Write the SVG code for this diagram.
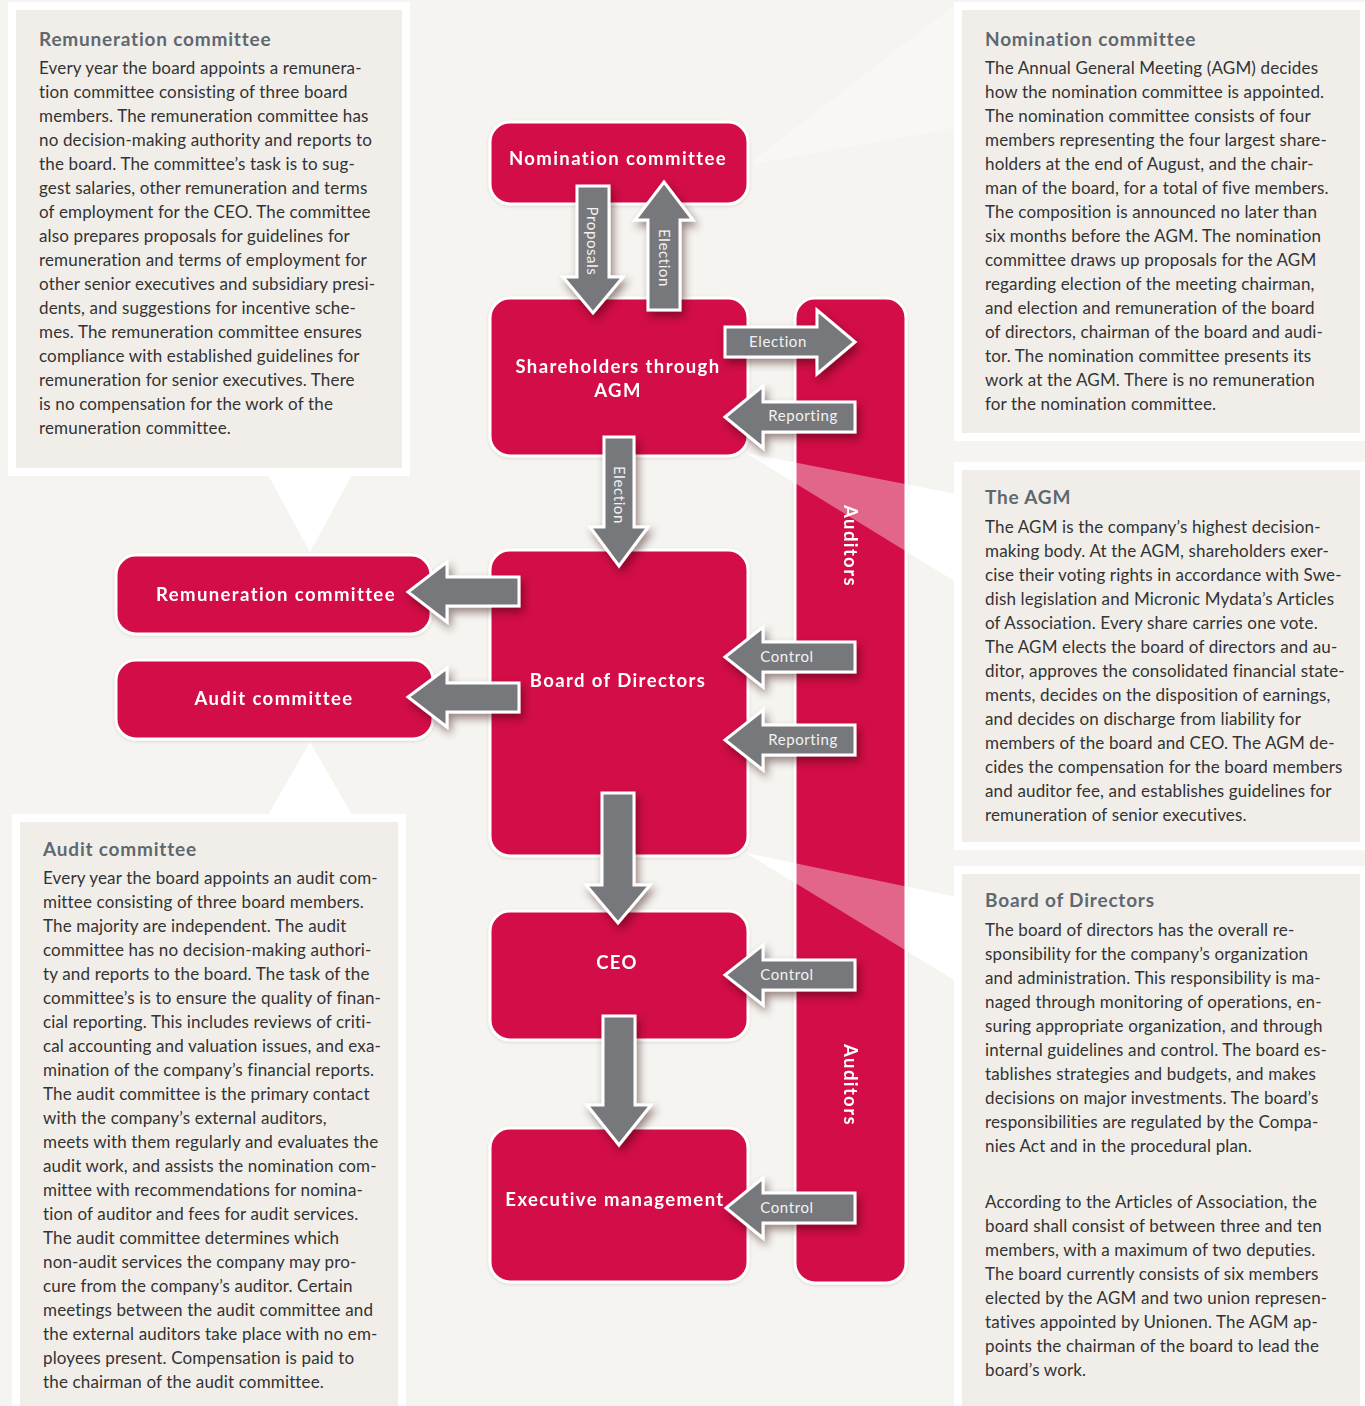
<svg xmlns="http://www.w3.org/2000/svg" width="1365" height="1406" viewBox="0 0 1365 1406">
  <defs>
    <filter id="shadow" x="-20%" y="-20%" width="150%" height="150%">
      <feDropShadow dx="3" dy="5" stdDeviation="4" flood-color="#2a0010" flood-opacity="0.45"/>
    </filter>
    <filter id="nodeShadow" x="-10%" y="-10%" width="130%" height="130%">
      <feDropShadow dx="0" dy="1" stdDeviation="1.5" flood-color="#000" flood-opacity="0.12"/>
    </filter>
    <style>
      .frame { fill: #ffffff; }
      .panel { fill: #f1eeea; }
      .ptitle { font-family: Lato, "Liberation Sans", sans-serif; font-weight: 700; font-size: 19px; fill: #5e6870; letter-spacing: 0.8px; }
      .body { font-family: Lato, "Liberation Sans", sans-serif; font-size: 17px; fill: #333333; letter-spacing: 0.15px; }
      .node { fill: #d20e47; stroke: #ffffff; stroke-width: 3; }
      .nlabel { font-family: Lato, "Liberation Sans", sans-serif; font-weight: 700; font-size: 18.5px; fill: #ffffff; text-anchor: middle; letter-spacing: 1.4px; }
      .arrow { fill: #77787c; stroke: #ffffff; stroke-width: 3; stroke-linejoin: miter; filter: url(#shadow); }
      .alabel { font-family: Lato, "Liberation Sans", sans-serif; font-size: 15px; fill: #f2f2f2; text-anchor: middle; letter-spacing: 0.6px; }
    </style>
  </defs>

  <!-- page background -->
  <rect x="0" y="0" width="1365" height="1406" fill="#f5f4f0"/>

  <!-- text panels with white frames -->
  <g id="panel-remuneration">
    <rect class="frame" x="8" y="2" width="402" height="474"/>
    <polygon class="frame" points="268,475 352,475 310,552"/>
    <rect class="panel" x="16" y="10" width="386" height="458"/>
    <text class="ptitle" x="39" y="46">Remuneration committee</text>
    <text class="body" x="39" y="74">
      <tspan x="39" y="74">Every year the board appoints a remunera-</tspan>
      <tspan x="39" y="98">tion committee consisting of three board</tspan>
      <tspan x="39" y="122">members. The remuneration committee has</tspan>
      <tspan x="39" y="146">no decision-making authority and reports to</tspan>
      <tspan x="39" y="170">the board. The committee’s task is to sug-</tspan>
      <tspan x="39" y="194">gest salaries, other remuneration and terms</tspan>
      <tspan x="39" y="218">of employment for the CEO. The committee</tspan>
      <tspan x="39" y="242">also prepares proposals for guidelines for</tspan>
      <tspan x="39" y="266">remuneration and terms of employment for</tspan>
      <tspan x="39" y="290">other senior executives and subsidiary presi-</tspan>
      <tspan x="39" y="314">dents, and suggestions for incentive sche-</tspan>
      <tspan x="39" y="338">mes. The remuneration committee ensures</tspan>
      <tspan x="39" y="362">compliance with established guidelines for</tspan>
      <tspan x="39" y="386">remuneration for senior executives.  There</tspan>
      <tspan x="39" y="410">is no compensation for the work of the</tspan>
      <tspan x="39" y="434">remuneration committee.</tspan>
    </text>
  </g>

  <g id="panel-audit">
    <rect class="frame" x="12" y="814" width="394" height="600"/>
    <polygon class="frame" points="268,815 352,815 310,742"/>
    <rect class="panel" x="20" y="822" width="378" height="590"/>
    <text class="ptitle" x="43" y="856">Audit committee</text>
    <text class="body">
      <tspan x="43" y="884">Every year the board appoints an audit com-</tspan>
      <tspan x="43" y="908">mittee consisting of three board members.</tspan>
      <tspan x="43" y="932">The majority are independent. The audit</tspan>
      <tspan x="43" y="956">committee has no decision-making authori-</tspan>
      <tspan x="43" y="980">ty and reports to the board. The task of the</tspan>
      <tspan x="43" y="1004">committee’s is to ensure the quality of finan-</tspan>
      <tspan x="43" y="1028">cial reporting. This includes reviews of criti-</tspan>
      <tspan x="43" y="1052">cal accounting and valuation issues, and exa-</tspan>
      <tspan x="43" y="1076">mination of the company’s financial reports.</tspan>
      <tspan x="43" y="1100">The audit committee is the primary contact</tspan>
      <tspan x="43" y="1124">with the company’s external auditors,</tspan>
      <tspan x="43" y="1148">meets with them regularly and evaluates the</tspan>
      <tspan x="43" y="1172">audit work, and assists the nomination com-</tspan>
      <tspan x="43" y="1196">mittee with recommendations for nomina-</tspan>
      <tspan x="43" y="1220">tion of auditor and fees for audit services.</tspan>
      <tspan x="43" y="1244">The audit committee determines which</tspan>
      <tspan x="43" y="1268">non-audit services the company may pro-</tspan>
      <tspan x="43" y="1292">cure from the company’s auditor. Certain</tspan>
      <tspan x="43" y="1316">meetings between the audit committee and</tspan>
      <tspan x="43" y="1340">the external auditors take place with no em-</tspan>
      <tspan x="43" y="1364">ployees present. Compensation is paid to</tspan>
      <tspan x="43" y="1388">the chairman of the audit committee.</tspan>
    </text>
  </g>

  <!-- pointer wedges from the flow boxes to the right-hand panels -->
  <g id="wedges">
    <polygon points="754,160 754,164 956,128 956,4" fill="#ffffff" opacity="0.3"/>
    <polygon points="746,453 956,494 956,582" fill="#ffffff"/>
    <polygon points="746,853 956,897 956,981" fill="#ffffff"/>
  </g>

  <g id="panel-nomination">
    <rect class="frame" x="954" y="2" width="416" height="439"/>
    <rect class="panel" x="962" y="10" width="398" height="423"/>
    <text class="ptitle" x="985" y="46">Nomination committee</text>
    <text class="body">
      <tspan x="985" y="74">The Annual General Meeting (AGM) decides</tspan>
      <tspan x="985" y="98">how the nomination committee is appointed.</tspan>
      <tspan x="985" y="122">The nomination committee consists of four</tspan>
      <tspan x="985" y="146">members representing the four largest share-</tspan>
      <tspan x="985" y="170">holders at the end of August, and the chair-</tspan>
      <tspan x="985" y="194">man of the board, for a total of five members.</tspan>
      <tspan x="985" y="218">The composition is announced no later than</tspan>
      <tspan x="985" y="242">six months before the AGM. The nomination</tspan>
      <tspan x="985" y="266">committee draws up proposals for the AGM</tspan>
      <tspan x="985" y="290">regarding election of the meeting chairman,</tspan>
      <tspan x="985" y="314">and election and remuneration of the board</tspan>
      <tspan x="985" y="338">of directors, chairman of the board and audi-</tspan>
      <tspan x="985" y="362">tor. The nomination committee presents its</tspan>
      <tspan x="985" y="386">work at the AGM. There is no remuneration</tspan>
      <tspan x="985" y="410">for the nomination committee.</tspan>
    </text>
  </g>

  <g id="panel-agm">
    <rect class="frame" x="954" y="462" width="416" height="388"/>
    <rect class="panel" x="962" y="470" width="398" height="372"/>
    <text class="ptitle" x="985" y="504">The AGM</text>
    <text class="body">
      <tspan x="985" y="533">The AGM is the company’s highest decision-</tspan>
      <tspan x="985" y="557">making body. At the AGM, shareholders exer-</tspan>
      <tspan x="985" y="581">cise their voting rights in accordance with Swe-</tspan>
      <tspan x="985" y="605">dish legislation and Micronic Mydata’s Articles</tspan>
      <tspan x="985" y="629">of Association. Every share carries one vote.</tspan>
      <tspan x="985" y="653">The AGM elects the board of directors and au-</tspan>
      <tspan x="985" y="677">ditor, approves the consolidated financial state-</tspan>
      <tspan x="985" y="701">ments, decides on the disposition of earnings,</tspan>
      <tspan x="985" y="725">and decides on discharge from liability for</tspan>
      <tspan x="985" y="749">members of the board and CEO. The AGM de-</tspan>
      <tspan x="985" y="773">cides the compensation for the board members</tspan>
      <tspan x="985" y="797">and auditor fee, and establishes guidelines for</tspan>
      <tspan x="985" y="821">remuneration of senior executives.</tspan>
    </text>
  </g>

  <g id="panel-board">
    <rect class="frame" x="954" y="866" width="416" height="548"/>
    <rect class="panel" x="962" y="874" width="398" height="540"/>
    <text class="ptitle" x="985" y="907">Board of Directors</text>
    <text class="body">
      <tspan x="985" y="936">The board of directors has the overall re-</tspan>
      <tspan x="985" y="960">sponsibility for the company’s organization</tspan>
      <tspan x="985" y="984">and administration. This responsibility is ma-</tspan>
      <tspan x="985" y="1008">naged through monitoring of operations, en-</tspan>
      <tspan x="985" y="1032">suring appropriate organization, and through</tspan>
      <tspan x="985" y="1056">internal guidelines and control. The board es-</tspan>
      <tspan x="985" y="1080">tablishes strategies and budgets, and makes</tspan>
      <tspan x="985" y="1104">decisions on major investments. The board’s</tspan>
      <tspan x="985" y="1128">responsibilities are regulated by the Compa-</tspan>
      <tspan x="985" y="1152">nies Act and in the procedural plan.</tspan>
      <tspan x="985" y="1208">According to the Articles of Association, the</tspan>
      <tspan x="985" y="1232">board shall consist of between three and ten</tspan>
      <tspan x="985" y="1256">members, with a maximum of two deputies.</tspan>
      <tspan x="985" y="1280">The board currently consists of six members</tspan>
      <tspan x="985" y="1304">elected by the AGM and two union represen-</tspan>
      <tspan x="985" y="1328">tatives appointed by Unionen. The AGM ap-</tspan>
      <tspan x="985" y="1352">points the chairman of the board to lead the</tspan>
      <tspan x="985" y="1376">board’s work.</tspan>
    </text>
  </g>

  <!-- flow nodes -->
  <g id="node-nomination" filter="url(#nodeShadow)">
    <rect class="node" x="490" y="122" width="258" height="82" rx="20"/>
    <text class="nlabel" x="618" y="165">Nomination committee</text>
  </g>
  <g id="node-agm" filter="url(#nodeShadow)">
    <rect class="node" x="490" y="298" width="258" height="158" rx="20"/>
    <text class="nlabel" x="618" y="373">Shareholders through</text>
    <text class="nlabel" x="618" y="397">AGM</text>
  </g>
  <g id="node-board" filter="url(#nodeShadow)">
    <rect class="node" x="490" y="550" width="258" height="306" rx="20"/>
    <text class="nlabel" x="618" y="687">Board of Directors</text>
  </g>
  <g id="node-ceo" filter="url(#nodeShadow)">
    <rect class="node" x="490" y="911" width="258" height="129" rx="20"/>
    <text class="nlabel" x="617" y="969">CEO</text>
  </g>
  <g id="node-exec" filter="url(#nodeShadow)">
    <rect class="node" x="490" y="1128" width="258" height="154" rx="20"/>
    <text class="nlabel" x="615" y="1206">Executive management</text>
  </g>
  <g id="node-remuneration" filter="url(#nodeShadow)">
    <rect class="node" x="116" y="555" width="315" height="79" rx="20"/>
    <text class="nlabel" x="276" y="601">Remuneration committee</text>
  </g>
  <g id="node-audit" filter="url(#nodeShadow)">
    <rect class="node" x="116" y="660" width="317" height="79" rx="20"/>
    <text class="nlabel" x="274" y="705">Audit committee</text>
  </g>
  <g id="node-auditors" filter="url(#nodeShadow)">
    <rect class="node" x="795" y="298" width="111" height="985" rx="20"/>
    <text class="nlabel" transform="translate(844,546) rotate(90)" x="0" y="0">Auditors</text>
    <text class="nlabel" transform="translate(844,1085) rotate(90)" x="0" y="0">Auditors</text>
  </g>

  <!-- translucent part of the wedges where they cross the auditors bar -->
  <g id="wedge-overlay" fill="#ffffff" opacity="0.37">
    <polygon points="746,453 956,494 956,582"/>
    <polygon points="746,853 956,897 956,981"/>
  </g>

  <!-- connectors: block arrows -->
  <g id="connectors">
    <path class="arrow" d="M577,186 H609 V277 H623 L593,313 L563,277 H577 Z"/>
    <path class="arrow" d="M648,310 H680 V220 H693 L664,182 L635,220 H648 Z"/>
    <path class="arrow" d="M725,327 H817 V310 L855,342 L817,374 V357 H725 Z"/>
    <path class="arrow" d="M855,402 H763 V386 L725,417 L763,448 V432 H855 Z"/>
    <path class="arrow" d="M604,437 H634 V527 H648 L619,566 L590,527 H604 Z"/>
    <path class="arrow" d="M519,577 H447 V562 L408,592 L447,622 V606 H519 Z"/>
    <path class="arrow" d="M519,683 H447 V668 L408,697 L447,727 V712 H519 Z"/>
    <path class="arrow" d="M855,642 H763 V627 L725,657 L763,687 V672 H855 Z"/>
    <path class="arrow" d="M855,725 H763 V710 L725,740 L763,770 V755 H855 Z"/>
    <path class="arrow" d="M602,793 H634 V885 H650 L618,923 L586,885 H602 Z"/>
    <path class="arrow" d="M855,960 H763 V945 L725,975 L763,1005 V990 H855 Z"/>
    <path class="arrow" d="M603,1016 H635 V1105 H651 L619,1145 L587,1105 H603 Z"/>
    <path class="arrow" d="M855,1193 H763 V1178 L726,1208 L763,1238 V1223 H855 Z"/>

    <text class="alabel" transform="translate(587,241) rotate(90)" x="0" y="0">Proposals</text>
    <text class="alabel" transform="translate(659,258) rotate(90)" x="0" y="0">Election</text>
    <text class="alabel" x="778" y="347">Election</text>
    <text class="alabel" x="803" y="421">Reporting</text>
    <text class="alabel" transform="translate(614,495) rotate(90)" x="0" y="0">Election</text>
    <text class="alabel" x="787" y="662">Control</text>
    <text class="alabel" x="803" y="745">Reporting</text>
    <text class="alabel" x="787" y="980">Control</text>
    <text class="alabel" x="787" y="1213">Control</text>
  </g>
</svg>
